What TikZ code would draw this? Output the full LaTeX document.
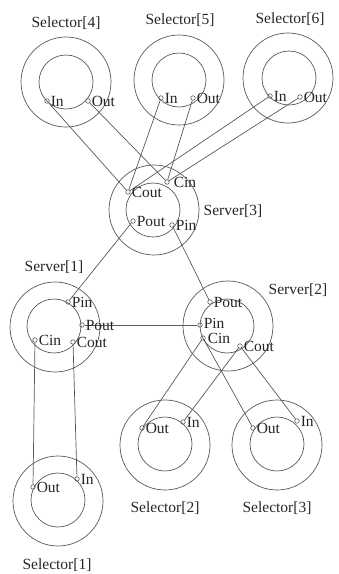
\documentclass[tikz,border=0pt]{standalone}
\usepackage{fontspec}
\setmainfont{Liberation Serif}
\begin{document}
\begin{tikzpicture}[x=1pt,y=-1pt,
  ring/.style={circle,draw=black!65,line width=0.7pt,inner sep=0pt},
  outer/.style={ring,minimum size=90pt},
  inner/.style={ring,minimum size=54pt},
  port/.style={circle,draw=black!65,line width=0.6pt,inner sep=0pt,minimum size=4.5pt},
  lbl/.style={anchor=base west,inner sep=0pt,text=black!85,font=\fontsize{15.5}{17}\selectfont},
  ttl/.style={inner sep=0pt,text=black!85,font=\fontsize{15.5}{17}\selectfont},
  wire/.style={draw=black!65,line width=0.7pt}]
\useasboundingbox (0,0) rectangle (339,574);
% ---------- Selector[4]
\node[outer] (s4o) at (66,82) {};
\node[inner] (s4i) at (66,82) {};
\node[ttl] (s4t) at (66,23) {Selector[4]};
\node[port] (s4in) at (47,101) {};
\node[port] (s4out) at (88,101) {};
% ---------- Selector[5]
\node[outer] (s5o) at (179,80) {};
\node[inner] (s5i) at (179,80) {};
\node[ttl] (s5t) at (180,20) {Selector[5]};
\node[port] (s5in) at (161,98) {};
\node[port] (s5out) at (193,98) {};
% ---------- Selector[6]
\node[outer] (s6o) at (288,78) {};
\node[inner] (s6i) at (289,78) {};
\node[ttl] (s6t) at (290,19) {Selector[6]};
\node[port] (s6in) at (270,96) {};
\node[port] (s6out) at (300,97) {};
% ---------- Server[3]
\node[outer] (v3o) at (154,210) {};
\node[inner] (v3i) at (153,210) {};
\node[ttl] (v3t) at (233,211) {Server[3]};
\node[port] (v3cout) at (128,192) {};
\node[port] (v3cin) at (167,182) {};
\node[port] (v3pout) at (133,221) {};
\node[port] (v3pin) at (172,225) {};
% ---------- Server[1]
\node[outer] (v1o) at (55,327) {};
\node[inner] (v1i) at (54,326) {};
\node[ttl] (v1t) at (54,267) {Server[1]};
\node[port] (v1pin) at (68,302) {};
\node[port] (v1pout) at (82,325) {};
\node[port] (v1cin) at (35,340) {};
\node[port] (v1cout) at (73,342) {};
% ---------- Server[2]
\node[outer] (v2o) at (228,326) {};
\node[inner] (v2i) at (227,326) {};
\node[ttl] (v2t) at (298,290) {Server[2]};
\node[port] (v2pout) at (210,302) {};
\node[port] (v2pin) at (200,325) {};
\node[port] (v2cin) at (203,338) {};
\node[port] (v2cout) at (240,346) {};
% ---------- Selector[1]
\node[outer] (s1o) at (58,501) {};
\node[inner] (s1i) at (58,500) {};
\node[ttl] (s1t) at (57,565) {Selector[1]};
\node[port] (s1out) at (33,487) {};
\node[port] (s1in) at (77,479) {};
% ---------- Selector[2]
\node[outer] (s2o) at (165,445) {};
\node[inner] (s2i) at (165,444) {};
\node[ttl] (s2t) at (165,508) {Selector[2]};
\node[port] (s2out) at (142,428) {};
\node[port] (s2in) at (183,422) {};
% ---------- Selector[3]
\node[outer] (s3o) at (277,445) {};
\node[inner] (s3i) at (277,444) {};
\node[ttl] (s3t) at (277,508) {Selector[3]};
\node[port] (s3out) at (253,428) {};
\node[port] (s3in) at (297,421) {};
% ---------- wires
\path[wire] (s4in) -- (v3cout);
\path[wire] (s4out) -- (v3cin);
\path[wire] (s5in) -- (v3cout);
\path[wire] (s5out) -- (v3cin);
\path[wire] (s6in) -- (v3cout);
\path[wire] (s6out) -- (v3cin);
\path[wire] (v3pout) -- (v1pin);
\path[wire] (v3pin) -- (v2pout);
\path[wire] (v1pout) -- (v2pin);
\path[wire] (v1cin) -- (s1out);
\path[wire] (v1cout) -- (s1in);
\path[wire] (v2cin) -- (s2out);
\path[wire] (v2cin) -- (s3out);
\path[wire] (v2cout) -- (s2in);
\path[wire] (v2cout) -- (s3in);
% ---------- port labels
\node[lbl] (l4in) at ([shift={(1,5.5)}]s4in.east) {In};
\node[lbl] (l4out) at ([shift={(1,5.5)}]s4out.east) {Out};
\node[lbl] (l5in) at ([shift={(1,5.5)}]s5in.east) {In};
\node[lbl] (l5out) at ([shift={(1,5.5)}]s5out.east) {Out};
\node[lbl] (l6in) at ([shift={(1,5.5)}]s6in.east) {In};
\node[lbl] (l6out) at ([shift={(1,5.5)}]s6out.east) {Out};
\node[lbl] (l3cout) at ([shift={(1,5.5)}]v3cout.east) {Cout};
\node[lbl] (l3cin) at ([shift={(4,5.5)}]v3cin.east) {Cin};
\node[lbl] (l3pout) at ([shift={(1,5.5)}]v3pout.east) {Pout};
\node[lbl] (l3pin) at ([shift={(1,5.5)}]v3pin.east) {Pin};
\node[lbl] (l1pin) at ([shift={(1,5.5)}]v1pin.east) {Pin};
\node[lbl] (l1pout) at ([shift={(1,5.5)}]v1pout.east) {Pout};
\node[lbl] (l1cin) at ([shift={(1,5.5)}]v1cin.east) {Cin};
\node[lbl] (l1cout) at ([shift={(1,5.5)}]v1cout.east) {Cout};
\node[lbl] (l2pout) at ([shift={(1,5.5)}]v2pout.east) {Pout};
\node[lbl] (l2pin) at ([shift={(1,3)}]v2pin.east) {Pin};
\node[lbl] (l2cin) at ([shift={(2,5.5)}]v2cin.east) {Cin};
\node[lbl] (l2cout) at ([shift={(1,5.5)}]v2cout.east) {Cout};
\node[lbl] (l1sout) at ([shift={(1,5.5)}]s1out.east) {Out};
\node[lbl] (l1sin) at ([shift={(1,5.5)}]s1in.east) {In};
\node[lbl] (l2sout) at ([shift={(1,5.5)}]s2out.east) {Out};
\node[lbl] (l2sin) at ([shift={(1,5.5)}]s2in.east) {In};
\node[lbl] (l3sout) at ([shift={(1,5.5)}]s3out.east) {Out};
\node[lbl] (l3sin) at ([shift={(1,5.5)}]s3in.east) {In};
\end{tikzpicture}
\end{document}
